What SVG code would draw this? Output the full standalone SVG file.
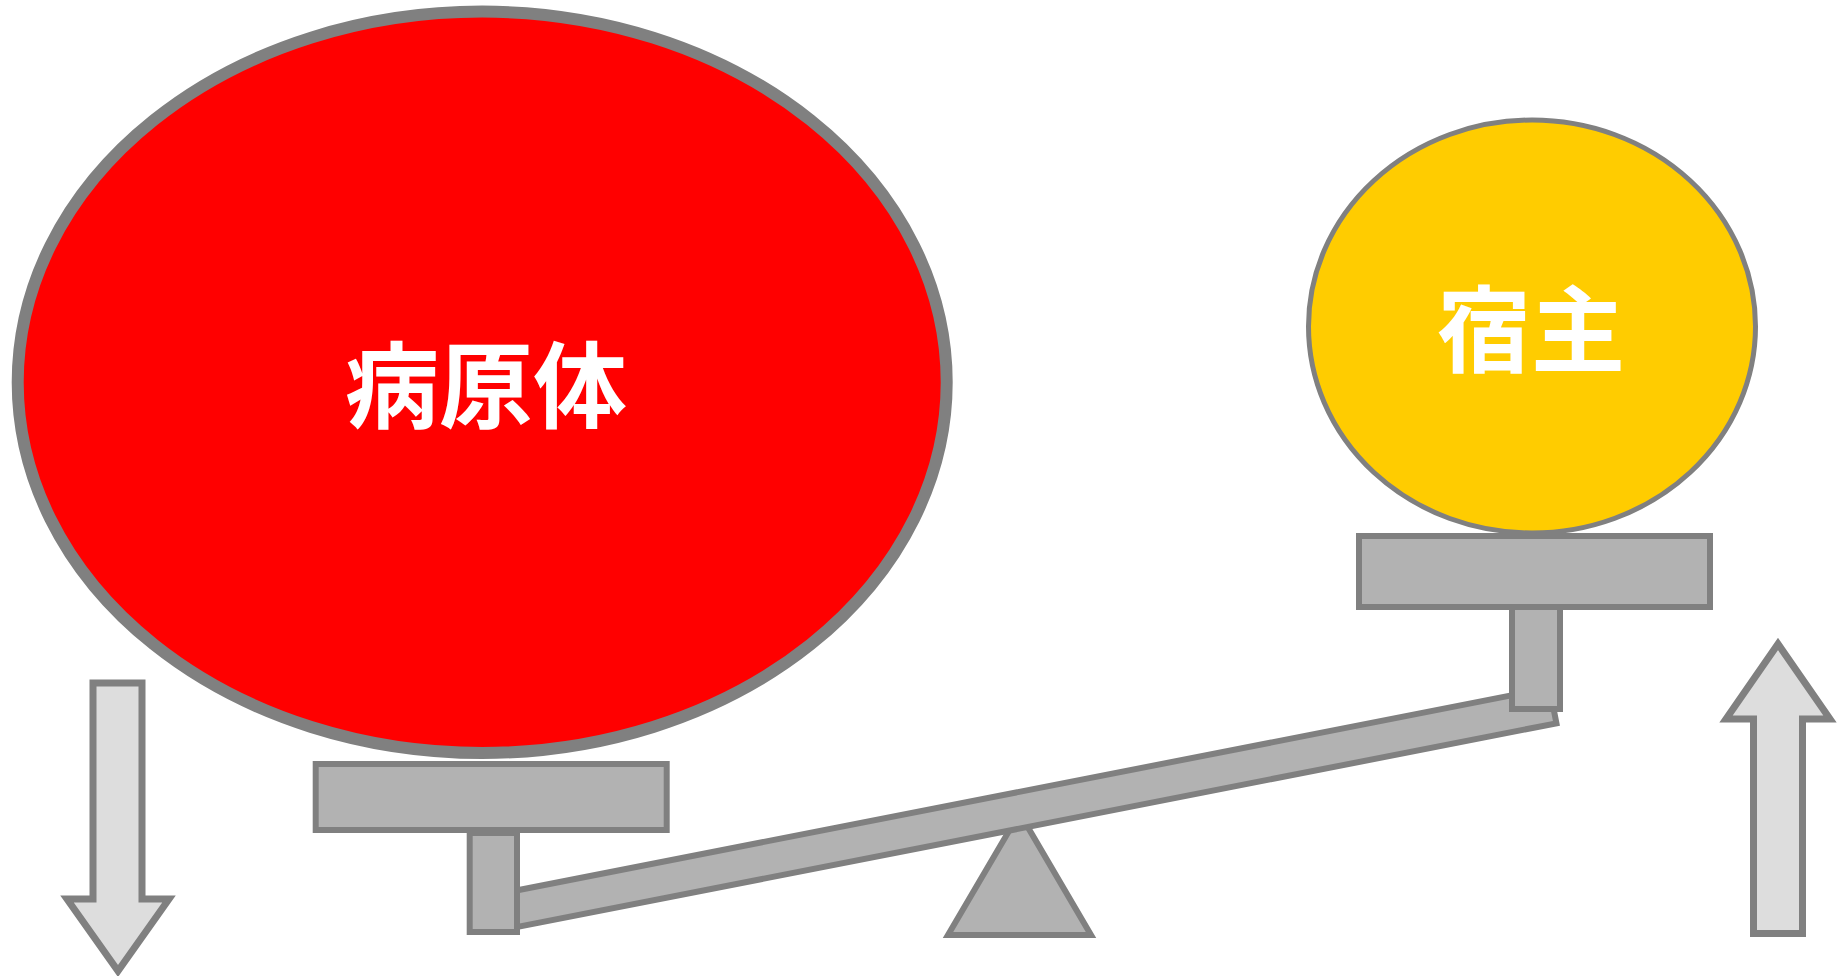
<svg xmlns="http://www.w3.org/2000/svg" width="1842" height="976" viewBox="0 0 1842 976">
  <style>
    .part { fill: #B2B2B2; stroke: #808080; stroke-width: 6; }
    .arrow { fill: #DDDDDD; stroke: #808080; stroke-width: 7; stroke-miterlimit: 10; }
    .label { font-family: "Noto Sans CJK JP", "Noto Sans CJK SC", sans-serif; font-weight: bold; font-size: 94px; fill: #FFFFFF; text-anchor: middle; dominant-baseline: central; }
  </style>
  <rect width="1842" height="976" fill="#FFFFFF"/>
  <g id="fulcrum">
    <polygon class="part" points="948,935 1091,935 1019.5,813"/>
  </g>
  <g id="beam">
    <rect class="part" x="484.95" y="791.3" width="1078.1" height="36" transform="rotate(-11.09 1024 809.3)"/>
  </g>
  <g id="left-stem">
    <rect class="part" x="469.7" y="833" width="47.3" height="99"/>
  </g>
  <g id="right-stem">
    <rect class="part" x="1512" y="607" width="48" height="102"/>
  </g>
  <g id="left-plate">
    <rect class="part" x="315.7" y="764" width="351" height="66"/>
  </g>
  <g id="right-plate">
    <rect class="part" x="1359" y="536" width="351" height="71"/>
  </g>
  <g id="pathogen">
    <ellipse cx="482.2" cy="382.3" rx="464.5" ry="370.7" fill="#FF0000" stroke="#808080" stroke-width="12"/>
    <text class="label" x="486" y="380">病原体</text>
  </g>
  <g id="host">
    <ellipse cx="1532" cy="326.5" rx="223.5" ry="206.5" fill="#FFCC00" stroke="#808080" stroke-width="5"/>
    <text class="label" x="1531" y="324">宿主</text>
  </g>
  <g id="connectors">
    <path id="down-arrow" class="arrow" d="M93,683 H142 V899 H169 L118,971 L67,899 H93 Z"/>
    <path id="up-arrow" class="arrow" d="M1753.5,933.5 H1802.5 V719 H1830 L1778,644 L1726,719 H1753.5 Z"/>
  </g>
</svg>
